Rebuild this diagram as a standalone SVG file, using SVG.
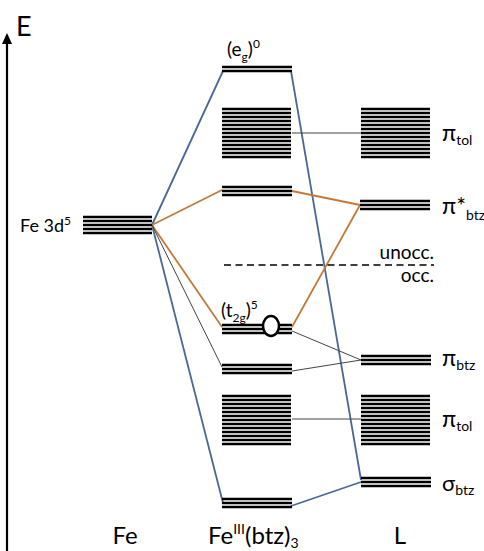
<svg xmlns="http://www.w3.org/2000/svg" width="484" height="551" viewBox="0 0 484 551">
  <style>
    .lv { stroke: #000; stroke-width: 2.6; fill: none; }
    .t { font-family: Lato, "Liberation Sans", sans-serif; fill: #000; }
    .blue { stroke: #4a6896; stroke-width: 1.8; fill: none; }
    .orange { stroke: #c27a3a; stroke-width: 1.8; fill: none; }
    .gray { stroke: #444; stroke-width: 1; fill: none; }
  </style>
  <defs>
    <marker id="arrow" markerWidth="11" markerHeight="10" refX="8" refY="5" orient="auto" markerUnits="userSpaceOnUse">
      <path d="M0,0 L11,5 L0,10 Z" fill="#000"/>
    </marker>
    <!-- 13-line block for the tolyl manifolds -->
    <g id="block13">
      <path class="lv" d="M0,0h69M0,4h69M0,8h69M0,12h69M0,16h69M0,20h69M0,24h69M0,28h69M0,32h69M0,36h69M0,40h69M0,44h69M0,48h69"/>
    </g>
    <g id="block3">
      <path class="lv" d="M0,0h70M0,4h70M0,8h70"/>
    </g>
  </defs>

  <!-- energy axis -->
  <g id="axis">
    <line x1="7" y1="551" x2="7" y2="36" stroke="#000" stroke-width="2.2" marker-end="url(#arrow)"/>
    <text class="t" x="16" y="36" font-size="27">E</text>
  </g>

  <!-- connectors -->
  <g id="connectors">
    <path class="blue" d="M152,225 L223,71"/>
    <path class="blue" d="M291,71 L361,480"/>
    <path class="blue" d="M152,225 L223,503"/>
    <path class="blue" d="M291,506 L361,482"/>
    <path class="orange" d="M152,225 L222,190"/>
    <path class="orange" d="M292,191 L360,205"/>
    <path class="orange" d="M152,225 L222,327"/>
    <path class="orange" d="M292,327 L360,205"/>
    <path class="gray" d="M152,225 L222,367"/>
    <path class="gray" d="M292,331 L361,360"/>
    <path class="gray" d="M292,371 L361,360"/>
    <path class="gray" d="M292,133 L361,133"/>
    <path class="gray" d="M292,419 L361,419"/>
    <line x1="224" y1="265" x2="434" y2="265" stroke="#000" stroke-width="1.5" stroke-dasharray="7,4.5"/>
  </g>

  <!-- Fe 3d levels -->
  <g id="fe3d">
    <path class="lv" d="M83,217h69M83,221h69M83,225h69M83,229h69M83,233h69"/>
    <text class="t" x="20" y="232" font-size="18">Fe 3d<tspan dy="-7" font-size="12">5</tspan></text>
  </g>

  <!-- Fe(III)(btz)3 levels -->
  <g id="eg">
    <path class="lv" d="M222,67h70M222,71h70"/>
    <text class="t" x="227" y="56" font-size="19">(e<tspan dy="5" font-size="12">g</tspan><tspan dy="-5">)</tspan><tspan dy="-8" font-size="12">0</tspan></text>
  </g>
  <g id="complex-pitol-upper">
    <use href="#block13" x="222" y="109"/>
  </g>
  <g id="complex-pistar">
    <use href="#block3" x="222" y="187"/>
  </g>
  <g id="t2g">
    <use href="#block3" x="222" y="325"/>
    <ellipse cx="271" cy="326" rx="8" ry="10" fill="#fff" stroke="#000" stroke-width="2.5"/>
    <text class="t" x="221" y="317" font-size="19">(t<tspan dy="5" font-size="12">2g</tspan><tspan dy="-5">)</tspan><tspan dy="-8" font-size="12">5</tspan></text>
  </g>
  <g id="complex-pibtz">
    <use href="#block3" x="222" y="365"/>
  </g>
  <g id="complex-pitol-lower">
    <use href="#block13" x="222" y="396"/>
  </g>
  <g id="complex-sigma">
    <use href="#block3" x="222" y="499"/>
  </g>

  <!-- ligand levels -->
  <g id="L-pitol-upper">
    <use href="#block13" x="361" y="109"/>
    <text class="t" x="442" y="141" font-size="23">π<tspan dy="4" font-size="14">tol</tspan></text>
  </g>
  <g id="L-pistar">
    <use href="#block3" x="360" y="201"/>
    <text class="t" x="442" y="214" font-size="23">π*<tspan dy="6" font-size="14">btz</tspan></text>
  </g>
  <g id="occupancy">
    <text class="t" x="434" y="259" font-size="19" text-anchor="end">unocc.</text>
    <text class="t" x="434" y="282" font-size="19" text-anchor="end">occ.</text>
  </g>
  <g id="L-pibtz">
    <use href="#block3" x="361" y="356"/>
    <text class="t" x="442" y="366" font-size="23">π<tspan dy="4" font-size="14">btz</tspan></text>
  </g>
  <g id="L-pitol-lower">
    <use href="#block13" x="361" y="396"/>
    <text class="t" x="442" y="427" font-size="23">π<tspan dy="4" font-size="14">tol</tspan></text>
  </g>
  <g id="L-sigma">
    <use href="#block3" x="361" y="478"/>
    <text class="t" x="442" y="491" font-size="22">σ<tspan dy="4" font-size="14">btz</tspan></text>
  </g>

  <!-- column titles -->
  <g id="titles">
    <text class="t" x="125" y="544" font-size="24" text-anchor="middle">Fe</text>
    <text class="t" x="208" y="544" font-size="24">Fe<tspan dy="-10" font-size="14">III</tspan><tspan dy="10">(btz)</tspan><tspan dy="4" font-size="14">3</tspan></text>
    <text class="t" x="400" y="544" font-size="24" text-anchor="middle">L</text>
  </g>
</svg>
